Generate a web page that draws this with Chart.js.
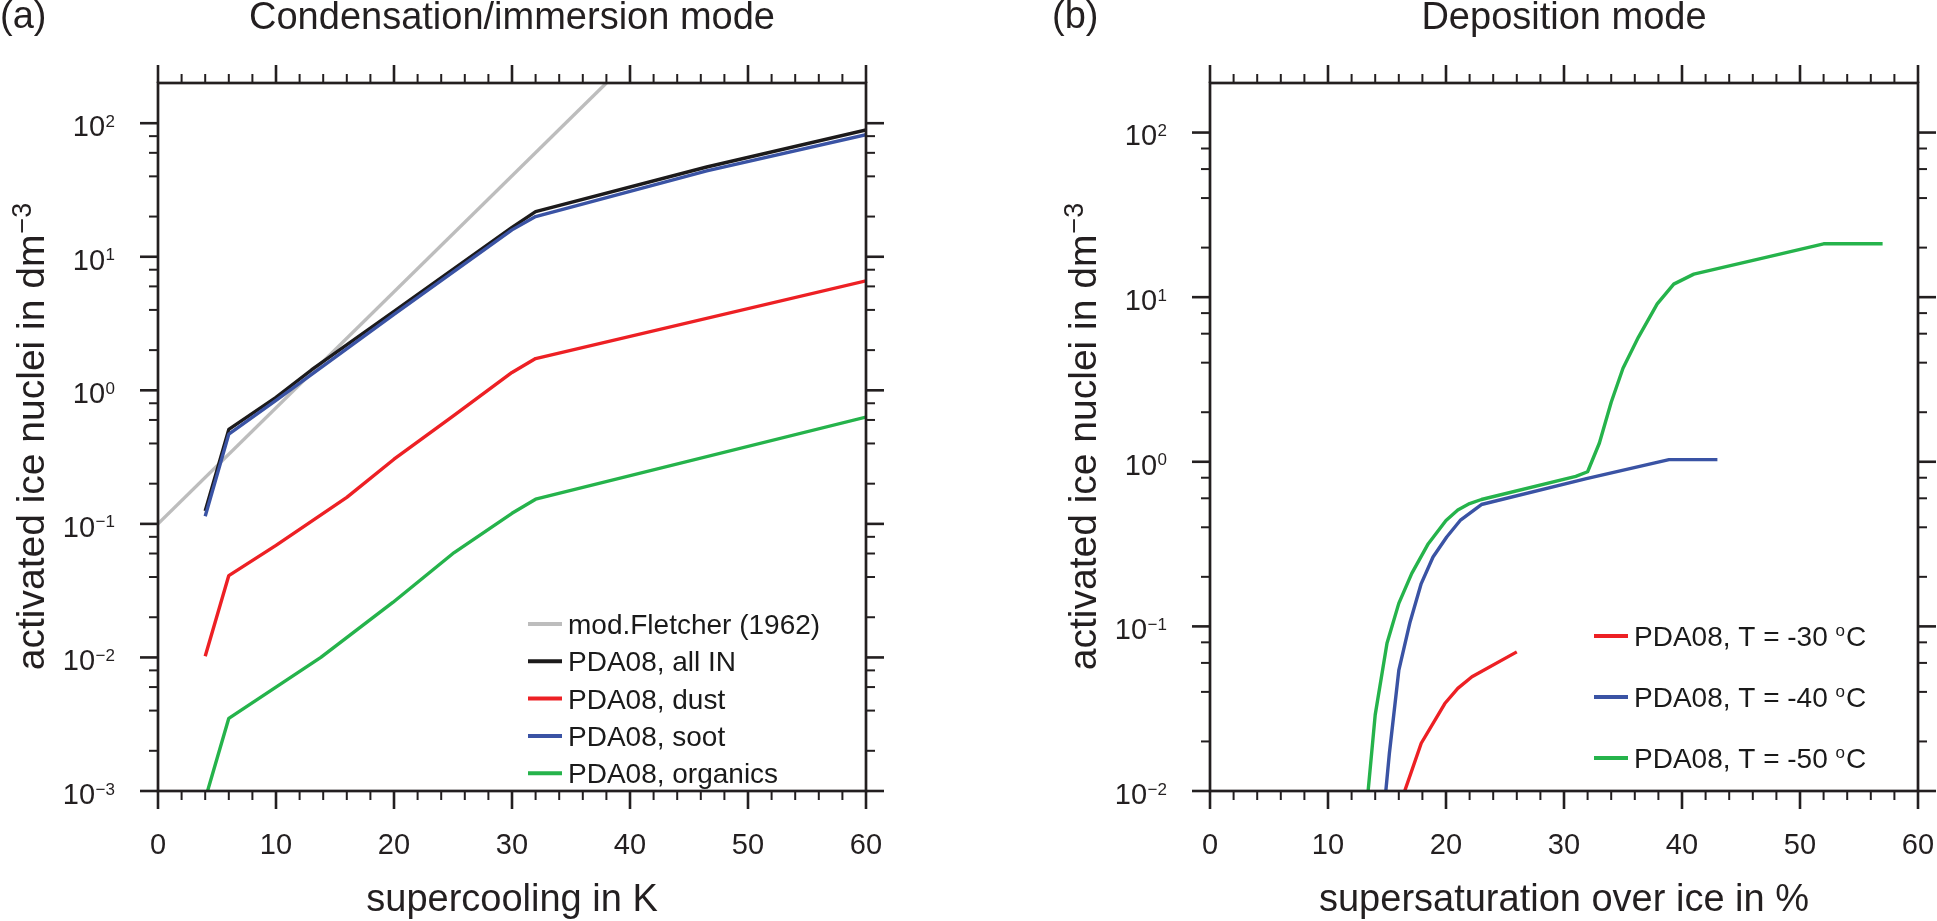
<!DOCTYPE html>
<html>
<head>
<script src="https://cdn.jsdelivr.net/npm/chart.js@4.4.1/dist/chart.umd.min.js"></script>
<title>Activated ice nuclei</title>
<style>
  body { margin: 0; background: #fff; }
  .panel { position: absolute; top: 0; height: 921px; }
</style>
</head>
<body>
<div class="panel" style="left:0; width:968px;"><canvas id="chartA"></canvas></div>
<div class="panel" style="left:968px; width:969px;"><canvas id="chartB"></canvas></div>

<script>
// ---- panel (a): condensation/immersion, x = supercooling in K, y = IN per dm^3
var fletcherX = [0, 38];
var fletcherY = [0.1, 200];
var allInX = [4, 6, 10, 13, 20, 30, 32, 46.5, 60];
var allInY = [0.125, 0.51, 0.885, 1.42, 3.9, 16.6, 21.8, 47, 89];
var dustX = [4, 6, 10, 16, 20, 25, 30, 32, 60];
var dustY = [0.0102, 0.041, 0.069, 0.158, 0.305, 0.64, 1.36, 1.73, 6.6];
var sootX = [4, 6, 10, 20, 30, 32, 46.5, 60];
var sootY = [0.114, 0.47, 0.84, 3.7, 15.9, 20, 44, 82];
var orgX = [4, 6, 13.8, 19.9, 25.1, 30, 32, 60];
var orgY = [0.00087, 0.0035, 0.01, 0.0258, 0.061, 0.12, 0.153, 0.63];

// ---- panel (b): deposition, x = supersaturation over ice in %
var t30X = [16.5, 17.9, 19.9, 21.0, 22.2, 26.0];
var t30Y = [0.01, 0.0195, 0.034, 0.042, 0.0494, 0.07];
var t40X = [14.9, 15.2, 16.0, 16.95, 17.9, 18.9, 20.06, 21.2, 23.0, 31.9, 38.9, 43.0];
var t40Y = [0.01, 0.0169, 0.054, 0.106, 0.182, 0.264, 0.349, 0.44, 0.55, 0.79, 1.03, 1.03];
var t50X = [13.4, 14.0, 15.0, 16.0, 17.1, 18.5, 20.0, 21.0, 22.0, 23.0, 31.0, 32.0, 33.0, 34.0, 35.0, 36.3, 37.9, 39.3, 41.0, 47.2, 52.0, 57.0];
var t50Y = [0.01, 0.029, 0.079, 0.138, 0.21, 0.318, 0.44, 0.51, 0.557, 0.59, 0.815, 0.87, 1.3, 2.3, 3.7, 5.7, 9.1, 12.0, 13.8, 17.5, 21.1, 21.1];

// ---- axes
var xMajor = [0, 10, 20, 30, 40, 50, 60];
var xMinor = [2, 4, 6, 8, 12, 14, 16, 18, 22, 24, 26, 28, 32, 34, 36, 38, 42, 44, 46, 48, 52, 54, 56, 58];
var yExpA = [-3, -2, -1, 0, 1, 2];
var yExpB = [-2, -1, 0, 1, 2];
var yMinorMant = [2, 4, 6, 8];

var FONT = '"Liberation Sans", Arial, Helvetica, sans-serif';
var AXIS = '#231f20';

function pts(xs, ys) {
  return xs.map(function (x, i) { return { x: x, y: ys[i] }; });
}

function minorLog(exps) {
  var out = [];
  for (var i = 0; i < exps.length - 1; i++) {
    yMinorMant.forEach(function (m) { out.push(m * Math.pow(10, exps[i])); });
  }
  return out;
}

// draws "10" with a raised exponent, right aligned at xr
function powLabel(ctx, xr, py, e) {
  var sup = (e < 0 ? '\u2212' : '') + Math.abs(e);
  ctx.font = '17px ' + FONT;
  var w2 = ctx.measureText(sup).width;
  ctx.textAlign = 'left';
  ctx.fillText(sup, xr - w2, py + 3.6);
  ctx.font = '29px ' + FONT;
  var w1 = ctx.measureText('10').width;
  ctx.fillText('10', xr - w2 - w1 - 0.5, py + 12.9);
}

// legend text; a degree sign is set as a small raised "o" like the original
function legendText(ctx, s, x, y) {
  var k = s.indexOf('\u00b0');
  ctx.font = '28px ' + FONT;
  if (k < 0) { ctx.fillText(s, x, y); return; }
  var head = s.slice(0, k), tail = s.slice(k + 1);
  ctx.fillText(head, x, y);
  x += ctx.measureText(head).width;
  ctx.font = '17px ' + FONT;
  ctx.fillText('o', x, y - 10);
  x += ctx.measureText('o').width + 1;
  ctx.font = '28px ' + FONT;
  ctx.fillText(tail, x, y);
}

// frame, ticks on all four sides, labels, titles and legend
var nclPlugin = {
  id: 'ncl',
  afterDraw: function (chart, args, o) {
    var ctx = chart.ctx, a = chart.chartArea;
    var xs = chart.scales.x, ys = chart.scales.y;
    ctx.save();
    ctx.strokeStyle = AXIS;
    ctx.fillStyle = AXIS;

    function seg(x1, y1, x2, y2) {
      ctx.beginPath(); ctx.moveTo(x1, y1); ctx.lineTo(x2, y2); ctx.stroke();
    }
    function xTicks(vals, len, w) {
      ctx.lineWidth = w;
      vals.forEach(function (v) {
        var px = xs.getPixelForValue(v);
        seg(px, a.bottom, px, a.bottom + len);
        seg(px, a.top, px, a.top - len);
      });
    }
    function yTicks(vals, len, w) {
      ctx.lineWidth = w;
      vals.forEach(function (v) {
        var py = ys.getPixelForValue(v);
        seg(a.left, py, a.left - len, py);
        seg(a.right, py, a.right + len, py);
      });
    }
    xTicks(xMinor, 9, 2);
    xTicks(xMajor, 18, 2.6);
    var yMajor = o.yExp.map(function (e) { return Math.pow(10, e); });
    yTicks(minorLog(o.yExp), 9, 2);
    yTicks(yMajor, 18, 2.6);

    ctx.lineWidth = 2.7;
    ctx.strokeRect(a.left, a.top, a.right - a.left, a.bottom - a.top);

    // tick labels
    ctx.textBaseline = 'alphabetic';
    ctx.font = '29px ' + FONT;
    ctx.textAlign = 'center';
    xMajor.forEach(function (v) {
      ctx.fillText(String(v), xs.getPixelForValue(v), a.bottom + 63);
    });
    o.yExp.forEach(function (e) {
      powLabel(ctx, a.left - 43, ys.getPixelForValue(Math.pow(10, e)), e);
    });

    // titles
    var cx = (a.left + a.right) / 2, cy = (a.top + a.bottom) / 2;
    ctx.font = '38px ' + FONT;
    ctx.textAlign = 'center';
    ctx.fillText(o.title, cx, 29);
    ctx.fillText(o.xTitle, cx, a.bottom + 120);
    ctx.textAlign = 'left';
    ctx.fillText(o.tag, a.left - 158, 28);

    // y title with superscript, rotated
    ctx.save();
    ctx.translate(a.left - 114.5, cy);
    ctx.rotate(-Math.PI / 2);
    ctx.font = '39px ' + FONT;
    var w1 = ctx.measureText(o.yTitle).width;
    ctx.font = '27px ' + FONT;
    var w2 = ctx.measureText(o.yTitleSup).width;
    var x0 = -(w1 + w2) / 2;
    ctx.font = '39px ' + FONT;
    ctx.fillText(o.yTitle, x0, 0);
    ctx.font = '27px ' + FONT;
    ctx.fillText(o.yTitleSup, x0 + w1 + 1, -13);
    ctx.restore();

    // legend inside the plot
    ctx.textAlign = 'left';
    o.legendOrder.forEach(function (di, i) {
      var ds = chart.data.datasets[di];
      var ry = a.top + o.legendTop + i * o.legendStep;
      ctx.strokeStyle = ds.borderColor;
      ctx.lineWidth = 4;
      seg(a.left + o.legendX, ry, a.left + o.legendX + 34, ry);
      ctx.fillStyle = '#1a1a1a';
      legendText(ctx, ds.label, a.left + o.legendX + 40, ry + 10);
    });
    ctx.restore();
  }
};

function lineSet(label, xs, ys, color, order) {
  return {
    label: label, data: pts(xs, ys), borderColor: color, backgroundColor: color,
    borderWidth: 3.4, pointRadius: 0, tension: 0, fill: false, clip: 0,
    borderJoinStyle: 'round', order: order
  };
}

function baseOptions(ymin, padLeft, padRight, ncl) {
  return {
    responsive: true,
    maintainAspectRatio: false,
    animation: false,
    layout: { padding: { left: padLeft, right: padRight, top: 83, bottom: 130 } },
    scales: {
      x: { type: 'linear', min: 0, max: 60, display: false },
      y: { type: 'logarithmic', min: ymin, max: 200, display: false }
    },
    plugins: { legend: { display: false }, tooltip: { enabled: false }, ncl: ncl }
  };
}

var RED = '#ed2024', BLUE = '#3a53a4', GREEN = '#25b34b', GRAY = '#bdbdbd', BLACK = '#1c1a1b';

new Chart(document.getElementById('chartA'), {
  type: 'line',
  data: {
    datasets: [
      lineSet('mod.Fletcher (1962)', fletcherX, fletcherY, GRAY, 5),
      lineSet('PDA08, all IN', allInX, allInY, BLACK, 2),
      lineSet('PDA08, dust', dustX, dustY, RED, 3),
      lineSet('PDA08, soot', sootX, sootY, BLUE, 1),
      lineSet('PDA08, organics', orgX, orgY, GREEN, 4)
    ]
  },
  options: baseOptions(0.001, 158, 102, {
    title: 'Condensation/immersion mode', tag: '(a)',
    xTitle: 'supercooling in K',
    yTitle: 'activated ice nuclei in dm', yTitleSup: '\u22123',
    yExp: yExpA,
    legendOrder: [0, 1, 2, 3, 4], legendX: 370, legendTop: 541, legendStep: 37.3
  }),
  plugins: [nclPlugin]
});

new Chart(document.getElementById('chartB'), {
  type: 'line',
  data: {
    datasets: [
      lineSet('PDA08, T = -30 \u00b0C', t30X, t30Y, RED, 3),
      lineSet('PDA08, T = -40 \u00b0C', t40X, t40Y, BLUE, 2),
      lineSet('PDA08, T = -50 \u00b0C', t50X, t50Y, GREEN, 1)
    ]
  },
  options: baseOptions(0.01, 242, 19, {
    title: 'Deposition mode', tag: '(b)',
    xTitle: 'supersaturation over ice in %',
    yTitle: 'activated ice nuclei in dm', yTitleSup: '\u22123',
    yExp: yExpB,
    legendOrder: [0, 1, 2], legendX: 384, legendTop: 553, legendStep: 61
  }),
  plugins: [nclPlugin]
});
</script>
</body>
</html>
